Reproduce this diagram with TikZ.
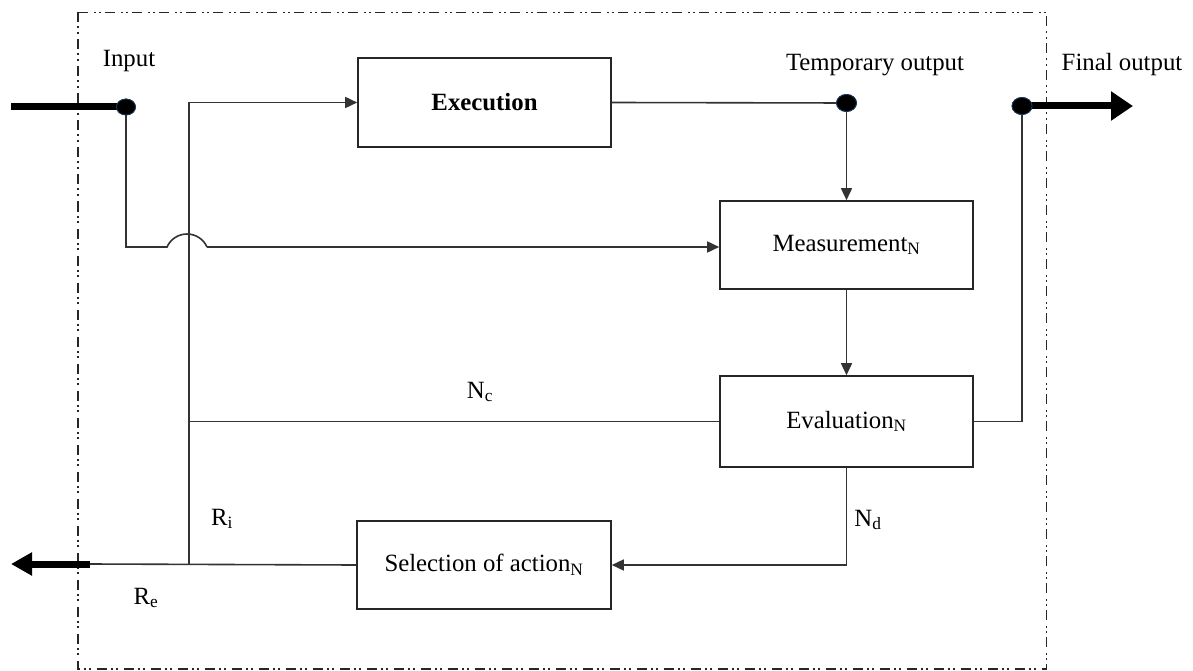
\documentclass[tikz,border=0pt]{standalone}
\usepackage{fontspec}
\setmainfont{Liberation Serif}
\usetikzlibrary{arrows.meta}

\tikzset{
  block/.style={draw=black!85, line width=1.6pt, fill=white, inner sep=0pt},
  wire/.style={draw=black!80, line width=1.6pt},
  flow/.style={wire, -{Triangle[length=12pt,width=11pt]}},
  bigarrow/.style={draw=black, line width=7pt, -{Triangle[length=22pt,width=28pt]}},
  bigarrowleft/.style={draw=black, line width=7pt, -{Triangle[length=21pt,width=22pt]}},
  port/.style={fill=black, draw={rgb,255:red,30;green,55;blue,90}, line width=0.8pt},
  lbl/.style={anchor=base, inner sep=0pt},
  frame/.style={draw=black!85, line width=1.4pt,
    dash pattern=on 10pt off 4pt on 2pt off 3.5pt on 2pt off 5.5pt}
}

\begin{document}
\begin{tikzpicture}[x=1pt, y=-1pt, font=\fontsize{24.8}{29}\selectfont]
  \useasboundingbox (0,0) rectangle (1193,671);

  % enclosing boundary
  \draw[frame] (78,12.5) rectangle (1046.5,669);

  % processing blocks
  \node[block, minimum width=253pt, minimum height=89pt] (exec) at (484.5,102.5) {\textbf{Execution}};
  \node[block, minimum width=253pt, minimum height=88pt] (meas) at (846.5,245) {Measurement\textsubscript{N}};
  \node[block, minimum width=253pt, minimum height=91pt] (eval) at (846.5,421.5) {Evaluation\textsubscript{N}};
  \node[block, minimum width=254pt, minimum height=88pt] (sel) at (484,565) {Selection of action\textsubscript{N}};

  % ports and free ends
  \coordinate (inDot) at (126,107);
  \coordinate (tempDot) at (846.5,103);
  \coordinate (finDot) at (1022,106);
  \coordinate (inStart) at (11,107);
  \coordinate (finEnd) at (1133,106);
  \coordinate (busBot) at (189,564);
  \coordinate (reStart) at (90,564);
  \coordinate (reEnd) at (11,564);
  \coordinate (jumpL) at (167,247);
  \coordinate (jumpR) at (207,247);

  % input path, hopping over the feedback bus with a round arc
  \draw[bigarrow, -] (inStart) -- (inDot);
  \draw[wire] (inDot) |- (jumpL)
     .. controls (170.5,239.1) and (178.4,234) .. (187,234)
     .. controls (195.6,234) and (203.5,239.1) .. (jumpR);
  \draw[flow] (jumpR) -- (jumpR -| meas.west);

  % feedback bus back to execution
  \draw[flow] (busBot) |- (exec.west);

  % main chain
  \draw[wire] (exec.east) -- (tempDot);
  \draw[flow] (tempDot) -- (meas.north);
  \draw[flow] (meas.south) -- (eval.north);
  \draw[wire] (eval.west) -- (eval.west -| busBot);
  \draw[wire] (eval.east) -| (finDot);
  \draw[bigarrow] (finDot) -- (finEnd);
  \draw[flow] (eval.south) |- (sel.east);
  \draw[wire] (sel.west) -- (reStart);
  \draw[bigarrowleft] (reStart) -- (reEnd);

  % connection points
  \fill[port] (inDot) ellipse [x radius=9.5, y radius=8];
  \fill[port] (tempDot) ellipse [x radius=10, y radius=8.5];
  \fill[port] (finDot) ellipse [x radius=10, y radius=8.5];
  \draw[port] (inDot) ellipse [x radius=9.5, y radius=8];
  \draw[port] (tempDot) ellipse [x radius=10, y radius=8.5];
  \draw[port] (finDot) ellipse [x radius=10, y radius=8.5];

  % labels
  \node[lbl] (lin) at (129,67) {Input};
  \node[lbl] (ltemp) at (875,71) {Temporary output};
  \node[lbl] (lfin) at (1122,71) {Final output};
  \node[lbl] (lnc) at (480,398) {N\textsubscript{c}};
  \node[lbl] (lnd) at (868,526) {N\textsubscript{d}};
  \node[lbl] (lri) at (222,525) {R\textsubscript{i}};
  \node[lbl] (lre) at (146,604) {R\textsubscript{e}};
\end{tikzpicture}
\end{document}
